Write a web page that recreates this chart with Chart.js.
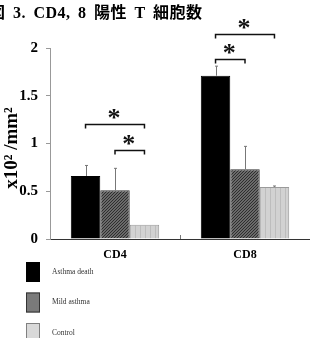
<!DOCTYPE html>
<html>
<head>
<meta charset="utf-8">
<script src="https://cdn.jsdelivr.net/npm/chart.js@4/dist/chart.umd.min.js"></script>
<style>
  html, body { margin: 0; padding: 0; background: #fff; }
  #wrap { position: relative; width: 310px; height: 338px; overflow: hidden; }
  #title {
    position: absolute; left: -11px; top: -1px; white-space: nowrap;
    font: bold 16px "Liberation Serif", "Noto Sans CJK JP", serif; color: #000;
    letter-spacing: 0.5px; word-spacing: 3px;
  }
  canvas { position: absolute; left: 0; top: 0; }
</style>
</head>
<body>
<div id="wrap">
  <canvas id="chart" width="310" height="338"></canvas>
  <div id="title">図 3. CD4, 8 陽性 T 細胞数</div>
</div>
<script>
// Reference data (x10^2 /mm^2)
const categories = ['CD4', 'CD8'];
const seriesNames = ['Asthma death', 'Mild asthma', 'Control'];
const asthmaDeath = [0.66, 1.71];
const asthmaDeathErr = [0.11, 0.10];
const mildAsthma = [0.51, 0.73];
const mildAsthmaErr = [0.23, 0.24];
const control = [0.15, 0.545];
const controlErr = [0.0, 0.01];
const yTicks = [0, 0.5, 1, 1.5, 2];
const yTitle = 'x10² /mm²';

// significance brackets: category, from series, to series, level (y value)
const brackets = [
  { cat: 0, from: 0, to: 2, level: 1.20 },
  { cat: 0, from: 1, to: 2, level: 0.93 },
  { cat: 1, from: 0, to: 2, level: 2.15 },
  { cat: 1, from: 0, to: 1, level: 1.88 }
];

const serif = '"Liberation Serif", "Times New Roman", serif';

// fill patterns for the grey bars
function makeCrossPattern() {
  const c = document.createElement('canvas');
  c.width = 3; c.height = 3;
  const g = c.getContext('2d');
  g.fillStyle = '#6a6a6a';
  g.fillRect(0, 0, 3, 3);
  g.fillStyle = '#2e2e2e';
  g.fillRect(0, 0, 1, 1);
  g.fillRect(2, 1, 1, 1);
  g.fillRect(1, 2, 1, 1);
  return g.createPattern(c, 'repeat');
}
function makeLinePattern() {
  const c = document.createElement('canvas');
  c.width = 5; c.height = 4;
  const g = c.getContext('2d');
  g.fillStyle = '#d2d2d2';
  g.fillRect(0, 0, 5, 4);
  g.fillStyle = '#bdbdbd';
  g.fillRect(0, 0, 1, 4);
  return g.createPattern(c, 'repeat');
}

const fills = ['#000000', makeCrossPattern(), makeLinePattern()];
const borders = ['#000000', '#333333', '#9a9a9a'];
const legendFills = ['#000000', '#7a7a7a', '#d9d9d9'];
const legendBorders = ['#000000', '#333333', '#808080'];
const errors = [asthmaDeathErr, mildAsthmaErr, controlErr];

// error bars, brackets, stars, axis title and legend
const extrasPlugin = {
  id: 'extras',
  afterDatasetsDraw(chart) {
    const ctx = chart.ctx;
    const y = chart.scales.y;
    const x = chart.scales.x;
    ctx.save();

    // error bars (upper only)
    ctx.strokeStyle = '#777';
    ctx.lineWidth = 1;
    chart.data.datasets.forEach((ds, di) => {
      const meta = chart.getDatasetMeta(di);
      meta.data.forEach((bar, i) => {
        const err = errors[di][i];
        if (!err) return;
        const top = y.getPixelForValue(ds.data[i] + err);
        const bx = Math.round(bar.x) + 0.5;
        ctx.beginPath();
        ctx.moveTo(bx, bar.y);
        ctx.lineTo(bx, top);
        ctx.moveTo(bx - 1.5, top);
        ctx.lineTo(bx + 1.5, top);
        ctx.stroke();
      });
    });

    // small tick between categories
    const mid = x.getPixelForValue(0.5);
    ctx.beginPath();
    ctx.moveTo(Math.round(mid) + 0.5, chart.chartArea.bottom);
    ctx.lineTo(Math.round(mid) + 0.5, chart.chartArea.bottom - 4);
    ctx.stroke();

    // significance brackets
    ctx.strokeStyle = '#111';
    ctx.lineWidth = 1.5;
    ctx.fillStyle = '#111';
    ctx.font = 'bold 26px ' + serif;
    ctx.textAlign = 'center';
    ctx.textBaseline = 'middle';
    brackets.forEach(b => {
      const x1 = chart.getDatasetMeta(b.from).data[b.cat].x;
      const x2 = chart.getDatasetMeta(b.to).data[b.cat].x;
      const by = Math.round(y.getPixelForValue(b.level)) + 0.5;
      ctx.beginPath();
      ctx.moveTo(x1, by + 4);
      ctx.lineTo(x1, by);
      ctx.lineTo(x2, by);
      ctx.lineTo(x2, by + 4);
      ctx.stroke();
      ctx.fillText('*', (x1 + x2) / 2 - 1, by - 5);
    });

    // rotated y axis title
    ctx.save();
    ctx.translate(12, 148);
    ctx.rotate(-Math.PI / 2);
    ctx.fillStyle = '#000';
    ctx.font = 'bold 19px ' + serif;
    ctx.textAlign = 'center';
    ctx.textBaseline = 'middle';
    ctx.fillText(yTitle, 0, 0);
    ctx.restore();

    // legend, stacked below the axis
    ctx.font = '7.5px ' + serif;
    ctx.textAlign = 'left';
    ctx.textBaseline = 'middle';
    ctx.lineWidth = 1;
    seriesNames.forEach((name, i) => {
      const ly = 262 + i * 30.5;
      ctx.fillStyle = legendFills[i];
      ctx.fillRect(26, ly, 14, 20);
      ctx.strokeStyle = legendBorders[i];
      ctx.strokeRect(26.5, ly + 0.5, 13, 19);
      ctx.fillStyle = '#333';
      ctx.fillText(name, 52, ly + 10);
    });
    ctx.restore();
  }
};

new Chart(document.getElementById('chart'), {
  type: 'bar',
  data: {
    labels: categories,
    datasets: [
      { label: seriesNames[0], data: asthmaDeath },
      { label: seriesNames[1], data: mildAsthma },
      { label: seriesNames[2], data: control }
    ].map((ds, i) => Object.assign(ds, {
      backgroundColor: fills[i],
      borderColor: borders[i],
      borderWidth: 1,
      categoryPercentage: 0.68,
      barPercentage: 1.0
    }))
  },
  options: {
    responsive: false,
    animation: false,
    layout: { padding: { top: 48, right: 0, bottom: 0, left: 0 } },
    plugins: {
      legend: { display: false },
      tooltip: { enabled: false }
    },
    scales: {
      x: {
        afterFit: s => { s.height = 99; },
        grid: { display: false, drawTicks: false },
        border: { color: '#333', width: 1 },
        ticks: {
          padding: 9,
          color: '#000',
          font: { family: serif, size: 12, weight: 'bold' }
        }
      },
      y: {
        min: 0,
        max: 2,
        afterFit: s => { s.width = 50; },
        afterBuildTicks: s => { s.ticks = yTicks.map(v => ({ value: v })); },
        grid: { drawOnChartArea: false, drawTicks: true, tickLength: 4, color: '#999' },
        border: { color: '#999', width: 1 },
        ticks: {
          padding: 8,
          color: '#000',
          font: { family: serif, size: 15, weight: 'bold' },
          callback: v => String(v)
        }
      }
    }
  },
  plugins: [extrasPlugin]
});
</script>
</body>
</html>
